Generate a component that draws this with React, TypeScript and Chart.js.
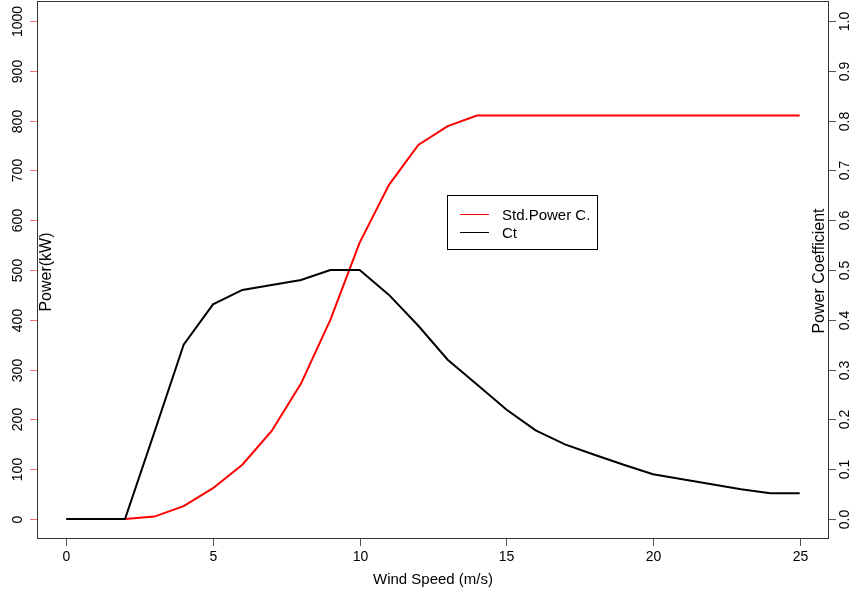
import React, { useEffect, useRef } from "react";
import { Chart, registerables } from "chart.js";

Chart.register(...registerables);

const windSpeed = [0, 1, 2, 3, 4, 5, 6, 7, 8, 9, 10, 11, 12, 13, 14, 15, 16, 17, 18, 19, 20, 21, 22, 23, 24, 25];
const powerKW = [0, 0, 0, 5, 26, 62, 109, 177, 272, 400, 555, 671, 751, 789, 810, 810, 810, 810, 810, 810, 810, 810, 810, 810, 810, 810];
const ctValues = [0, 0, 0, 0.174, 0.35, 0.431, 0.46, 0.47, 0.48, 0.5, 0.5, 0.45, 0.388, 0.32, 0.27, 0.22, 0.178, 0.15, 0.129, 0.109, 0.09, 0.08, 0.07, 0.06, 0.052, 0.052];

const xTicks = [0, 5, 10, 15, 20, 25];
const powerTicks = [0, 100, 200, 300, 400, 500, 600, 700, 800, 900, 1000];
const coefTicks = [0, 0.1, 0.2, 0.3, 0.4, 0.5, 0.6, 0.7, 0.8, 0.9, 1.0];

const seriesLabels = ["Std.Power C.", "Ct"];
const seriesColors = ["#ff0000", "#000000"];
const xTitle = "Wind Speed (m/s)";
const yTitle = "Power(kW)";
const y1Title = "Power Coefficient";

const FONT = '"Liberation Sans", Arial, sans-serif';

const axesPlugin = {
  id: "rAxes",
  afterDraw(chart: any) {
    const ctx = chart.ctx;
    const { left, right, top, bottom } = chart.chartArea;
    const xs = chart.scales.x;
    const ys = chart.scales.y;
    const y1 = chart.scales.y1;
    ctx.save();
    // box
    ctx.strokeStyle = "#333333";
    ctx.lineWidth = 1;
    ctx.strokeRect(left + 0.5, top + 0.5, right - left - 1, bottom - top - 1);

    ctx.fillStyle = "#000000";
    ctx.font = `14px ${FONT}`;
    // x ticks
    ctx.strokeStyle = "#555555";
    ctx.textAlign = "center";
    ctx.textBaseline = "middle";
    xTicks.forEach((v) => {
      const px = Math.round(xs.getPixelForValue(v)) + 0.5;
      ctx.beginPath();
      ctx.moveTo(px, bottom);
      ctx.lineTo(px, bottom + 7);
      ctx.stroke();
      ctx.fillText(String(v), px, 557);
    });
    // left ticks
    ctx.strokeStyle = "#ff7070";
    powerTicks.forEach((v) => {
      const py = Math.round(ys.getPixelForValue(v)) + 0.5;
      ctx.beginPath();
      ctx.moveTo(left - 7, py);
      ctx.lineTo(left, py);
      ctx.stroke();
      ctx.save();
      ctx.translate(18, py);
      ctx.rotate(-Math.PI / 2);
      ctx.fillText(String(v), 0, 0);
      ctx.restore();
    });
    // right ticks
    ctx.strokeStyle = "#555555";
    coefTicks.forEach((v) => {
      const py = Math.round(y1.getPixelForValue(v)) + 0.5;
      ctx.beginPath();
      ctx.moveTo(right, py);
      ctx.lineTo(right + 7, py);
      ctx.stroke();
      ctx.save();
      ctx.translate(845, py);
      ctx.rotate(-Math.PI / 2);
      ctx.fillText(v.toFixed(1), 0, 0);
      ctx.restore();
    });

    // titles
    ctx.font = `15px ${FONT}`;
    ctx.fillText(xTitle, 433, 580);
    ctx.font = `16px ${FONT}`;
    ctx.save();
    ctx.translate(47, 272);
    ctx.rotate(-Math.PI / 2);
    ctx.fillText(yTitle, 0, 0);
    ctx.restore();
    ctx.save();
    ctx.translate(820, 271);
    ctx.rotate(-Math.PI / 2);
    ctx.fillText(y1Title, 0, 0);
    ctx.restore();

    // legend
    ctx.strokeStyle = "#000000";
    ctx.lineWidth = 1;
    ctx.strokeRect(447.5, 195.5, 150, 54);
    ctx.font = `15px ${FONT}`;
    ctx.textAlign = "left";
    seriesLabels.forEach((lab, i) => {
      const ly = 214.5 + i * 18;
      ctx.strokeStyle = seriesColors[i];
      ctx.beginPath();
      ctx.moveTo(460, ly);
      ctx.lineTo(489, ly);
      ctx.stroke();
      ctx.fillStyle = "#000000";
      ctx.fillText(lab, 502, ly + 1.5);
    });
    ctx.restore();
  },
};

export default function App() {
  const ref = useRef<HTMLCanvasElement | null>(null);
  useEffect(() => {
    if (!ref.current) return;
    const chart = new Chart(ref.current, {
      type: "line",
      data: {
        datasets: [
          {
            label: seriesLabels[0],
            data: windSpeed.map((x, i) => ({ x, y: powerKW[i] })),
            borderColor: seriesColors[0],
            borderWidth: 2,
            pointRadius: 0,
            tension: 0,
            fill: false,
            yAxisID: "y",
            order: 1,
          },
          {
            label: seriesLabels[1],
            data: windSpeed.map((x, i) => ({ x, y: ctValues[i] })),
            borderColor: seriesColors[1],
            borderWidth: 2,
            pointRadius: 0,
            tension: 0,
            fill: false,
            yAxisID: "y1",
            order: 0,
          },
        ],
      },
      options: {
        responsive: false,
        animation: false,
        devicePixelRatio: 1,
        layout: { padding: { left: 37, top: 1, right: 25, bottom: 59 } },
        plugins: { legend: { display: false }, tooltip: { enabled: false } },
        scales: {
          x: { type: "linear", min: -1, max: 26, display: false },
          y: { type: "linear", min: -40, max: 1040, display: false },
          y1: { type: "linear", min: -0.04, max: 1.04, display: false, position: "right" },
        },
      },
      plugins: [axesPlugin],
    });
    return () => chart.destroy();
  }, []);
  return (
    <div style={{ position: "absolute", left: 0, top: 0, width: 854, height: 598, background: "#fff" }}>
      <canvas ref={ref} width={854} height={598} />
    </div>
  );
}
